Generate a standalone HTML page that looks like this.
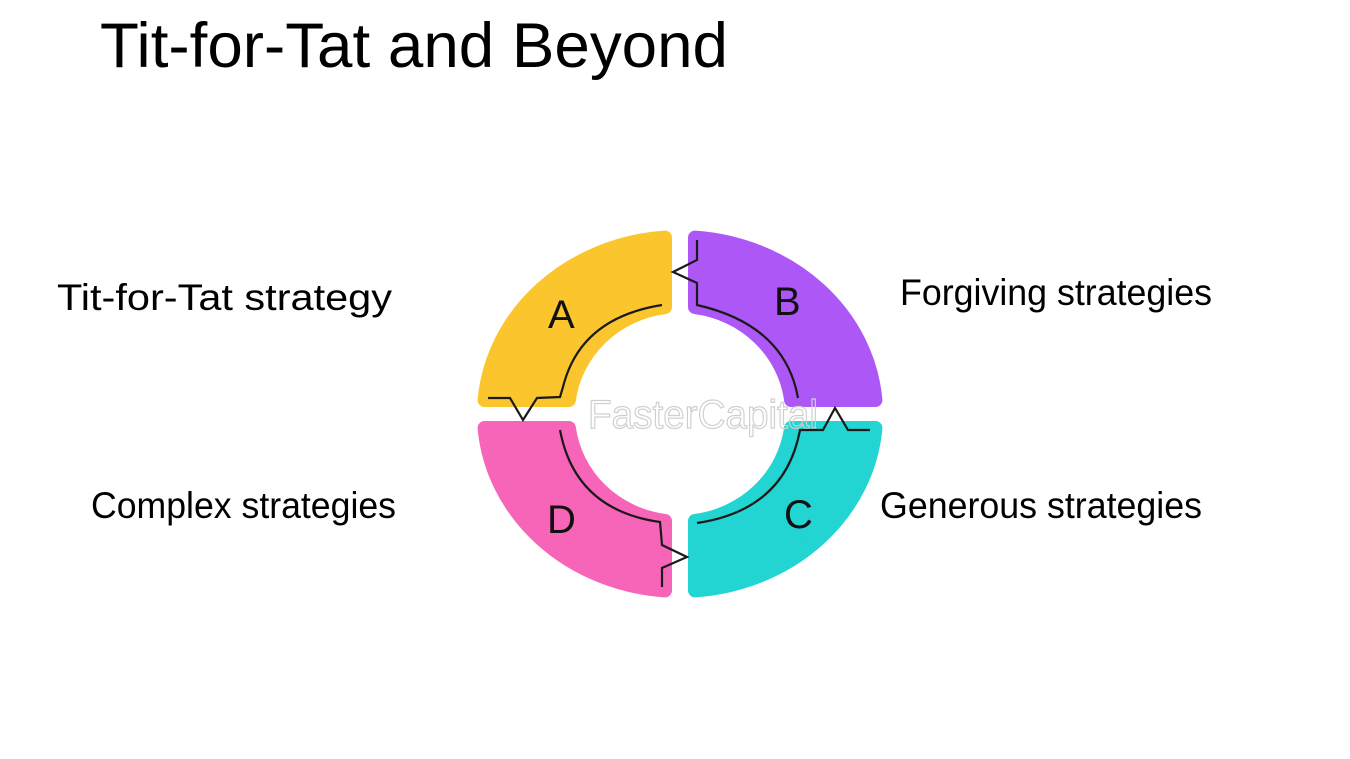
<!DOCTYPE html>
<html><head><meta charset="utf-8">
<style>
html,body{margin:0;padding:0;background:#fff;}
svg{display:block;}
text{font-family:"Liberation Sans",Arial,sans-serif;}
</style></head>
<body>
<svg width="1350" height="759" viewBox="0 0 1350 759" xmlns="http://www.w3.org/2000/svg">
<rect width="1350" height="759" fill="#fff"/>
<text x="100" y="67" font-size="63" textLength="628" lengthAdjust="spacingAndGlyphs" fill="#000">Tit-for-Tat and Beyond</text>

<text x="57" y="310" font-size="37" textLength="335" lengthAdjust="spacingAndGlyphs">Tit-for-Tat strategy</text>
<text x="900" y="305" font-size="37" textLength="312" lengthAdjust="spacingAndGlyphs">Forgiving strategies</text>
<text x="91" y="518" font-size="37" textLength="305" lengthAdjust="spacingAndGlyphs">Complex strategies</text>
<text x="880" y="518" font-size="37" textLength="322" lengthAdjust="spacingAndGlyphs">Generous strategies</text>

<g transform="translate(680,414)" stroke-linejoin="round" stroke-width="14">
  <path d="M-15,-176.4 A196,177 0 0 0 -195.4,-14 L-111.1,-14 A112,108 0 0 1 -15,-107 Z" fill="#FBC52E" stroke="#FBC52E"/>
  <path transform="scale(-1,1)" d="M-15,-176.4 A196,177 0 0 0 -195.4,-14 L-111.1,-14 A112,108 0 0 1 -15,-107 Z" fill="#AD58F6" stroke="#AD58F6"/>
  <path transform="scale(-1,-1)" d="M-15,-176.4 A196,177 0 0 0 -195.4,-14 L-111.1,-14 A112,108 0 0 1 -15,-107 Z" fill="#22D4D2" stroke="#22D4D2"/>
  <path transform="scale(1,-1)" d="M-15,-176.4 A196,177 0 0 0 -195.4,-14 L-111.1,-14 A112,108 0 0 1 -15,-107 Z" fill="#F765B8" stroke="#F765B8"/>
</g>

<text x="588" y="428" font-size="40" fill="none" stroke="#cfcfcf" stroke-width="1.2" textLength="230" lengthAdjust="spacingAndGlyphs">FasterCapital</text>

<g fill="none" stroke="#1a1a1a" stroke-width="2.2" stroke-linejoin="miter">
  <path d="M662,305 Q580,318 563,387 L560,397 L537,398 L523,420 L510,398 L488,398"/>
  <path d="M697,240 L697,260 L673,272 L697,283 L697,305 Q785,325 798,398"/>
  <path d="M870,430 L848,430 L835,408 L823,430 L800,430 Q785,510 697,523"/>
  <path d="M560,430 Q575,510 660,522 L662,545 L687,557 L662,568 L662,587"/>
</g>

<g font-size="40" fill="#111">
  <text x="548" y="328">A</text>
  <text x="774" y="315">B</text>
  <text x="784" y="528">C</text>
  <text x="547" y="533">D</text>
</g>
</svg>
</body></html>
